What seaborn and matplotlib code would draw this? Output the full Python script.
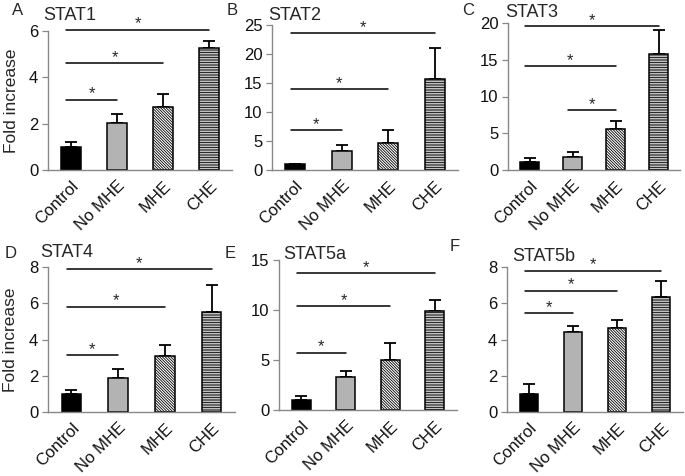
"""Fold increase of STAT1-5b expression across HE groups (bar panels A-F)."""

import matplotlib
matplotlib.use("Agg")
import matplotlib.pyplot as plt
import pandas as pd
import seaborn as sns

groups = ["Control", "No MHE", "MHE", "CHE"]

stat1_mean = [1.0, 2.02, 2.7, 5.27]
stat1_err = [0.2, 0.4, 0.6, 0.3]
stat2_mean = [1.0, 3.2, 4.7, 15.7]
stat2_err = [0.1, 1.1, 2.2, 5.3]
stat3_mean = [1.05, 1.8, 5.6, 15.8]
stat3_err = [0.55, 0.6, 1.05, 3.2]
stat4_mean = [1.02, 1.88, 3.08, 5.52]
stat4_err = [0.18, 0.52, 0.62, 1.48]
stat5a_mean = [1.03, 3.33, 5.0, 9.92]
stat5a_err = [0.4, 0.56, 1.75, 1.05]
stat5b_mean = [1.02, 4.42, 4.62, 6.32]
stat5b_err = [0.5, 0.31, 0.48, 0.92]

# significance bars: start group, end group, height
stat1_sig = [(0, 1, 3.04), (0, 2, 4.62), (0, 3, 6.06)]
stat2_sig = [(0, 1, 6.85), (0, 2, 13.94), (0, 3, 23.56)]
stat3_sig = [(1, 2, 8.2), (0, 2, 14.1), (0, 3, 19.55)]
stat4_sig = [(0, 1, 3.16), (0, 2, 5.82), (0, 3, 7.89)]
stat5a_sig = [(0, 1, 5.75), (0, 2, 10.38), (0, 3, 13.73)]
stat5b_sig = [(0, 1, 5.45), (0, 2, 6.7), (0, 3, 7.8)]

bar_colors = ["#000000", "#b3b3b3", "#ffffff", "#ffffff"]
bar_hatches = [None, None, "\\" * 12, "-" * 10]

sns.set_style("white")
plt.rcParams["font.family"] = ["Liberation Sans", "DejaVu Sans"]
plt.rcParams["hatch.linewidth"] = 0.6
plt.rcParams["hatch.color"] = "#333333"

W, H = 685, 476
fig = plt.figure(figsize=(W / 100, H / 100), dpi=100)


def px_axes(x0, x1, ytop, ybot):
    return fig.add_axes([x0 / W, 1 - ybot / H, (x1 - x0) / W, (ybot - ytop) / H])


panels = [
    # letter, title, means, errs, sigs, ymax, step, axes px, letter px, title px, ylabel
    ("A", "STAT1", stat1_mean, stat1_err, stat1_sig, 6, 2, (48, 232, 31, 170), (12, 15), (43, 20), True),
    ("B", "STAT2", stat2_mean, stat2_err, stat2_sig, 25, 5, (272, 458, 25, 170), (227, 15), (268, 20), False),
    ("C", "STAT3", stat3_mean, stat3_err, stat3_sig, 20, 5, (508, 680, 23, 170), (462, 15), (505, 17), False),
    ("D", "STAT4", stat4_mean, stat4_err, stat4_sig, 8, 2, (48, 235, 267, 412), (5, 258), (40, 257), True),
    ("E", "STAT5a", stat5a_mean, stat5a_err, stat5a_sig, 15, 5, (279, 457, 260, 410), (225, 258), (283, 259), False),
    ("F", "STAT5b", stat5b_mean, stat5b_err, stat5b_sig, 8, 2, (507, 683, 267, 412), (450, 251), (512, 261), False),
]

for letter, title, means, errs, sigs, ymax, step, box, lpos, tpos, ylab in panels:
    ax = px_axes(*box)
    df = pd.DataFrame({"group": groups, "value": means})
    sns.barplot(data=df, x="group", y="value", hue="group", palette=bar_colors,
                order=groups, hue_order=groups, width=0.42, errorbar=None,
                legend=False, edgecolor="black", linewidth=1.1, ax=ax)
    for cont, hatch in zip(ax.containers, bar_hatches):
        for patch in cont:
            patch.set_zorder(2)
            if hatch:
                patch.set_hatch(hatch)
    ax.errorbar(range(len(groups)), means, yerr=[[0] * len(errs), errs],
                fmt="none", ecolor="black", elinewidth=1.3, capsize=4,
                capthick=1.3, zorder=1)

    for i0, i1, y in sigs:
        ax.plot([i0 - 0.1, i1], [y, y], color="black", lw=1.1, clip_on=False)
        ax.annotate("*", xy=((i0 - 0.1 + i1) / 2, y), xytext=(0, 4),
                    textcoords="offset points", ha="center", va="center",
                    fontsize=12, annotation_clip=False)

    ax.set_xlim(-0.5, len(groups) - 0.5)
    ax.set_ylim(0, ymax)
    ax.set_yticks(range(0, ymax + 1, step))
    ax.set_xticks(range(len(groups)))
    ax.set_xticklabels(groups, rotation=45, ha="right", rotation_mode="anchor")
    ax.set_xticks([i - 0.5 for i in range(len(groups) + 1)], minor=True)
    ax.tick_params(axis="x", which="major", length=0, pad=6, labelsize=12, colors="#111111")
    ax.tick_params(axis="x", which="minor", length=4, width=0.9, color="#888888", direction="out")
    ax.tick_params(axis="y", length=4, width=0.9, color="#888888", direction="out",
                   left=True, labelsize=12, labelcolor="#111111", pad=3)
    ax.set_xlabel("")
    ax.set_ylabel("Fold increase" if ylab else "", fontsize=12.5)
    if ylab:
        ax.yaxis.set_label_coords(-0.16, 0.5)
    for side in ("top", "right"):
        ax.spines[side].set_visible(False)
    for side in ("left", "bottom"):
        ax.spines[side].set_color("#888888")
        ax.spines[side].set_linewidth(1.0)

    fig.text(lpos[0] / W, 1 - lpos[1] / H, letter, fontsize=12, ha="left", va="baseline")
    fig.text(tpos[0] / W, 1 - tpos[1] / H, title, fontsize=13, ha="left", va="baseline")

fig.savefig("out.png", dpi=100)
